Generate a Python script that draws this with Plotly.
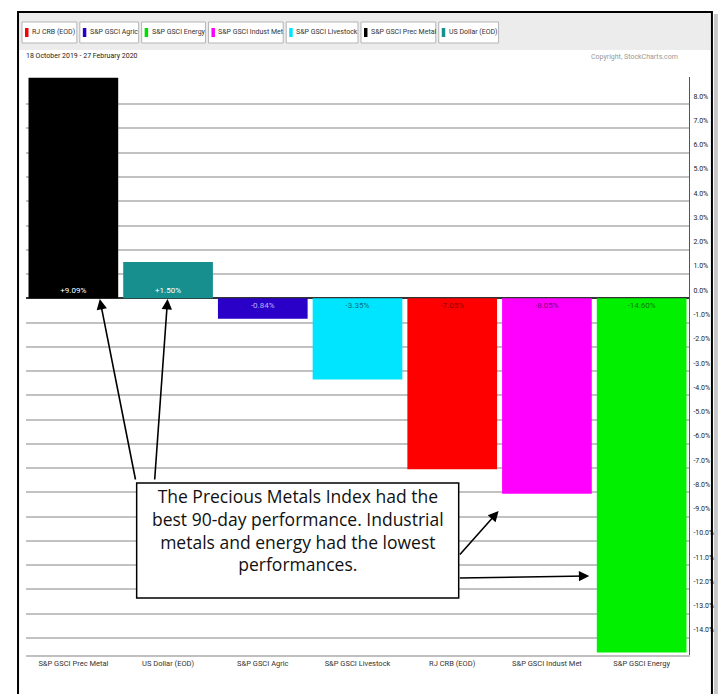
import plotly.graph_objects as go

# ---------------- data ----------------
categories = ["S&P GSCI Prec Metal", "US Dollar (EOD)", "S&P GSCI Agric", "S&P GSCI Livestock",
              "RJ CRB (EOD)", "S&P GSCI Indust Met", "S&P GSCI Energy"]
values = [9.09, 1.50, -0.84, -3.35, -7.05, -8.05, -14.60]
bar_colors = ["#000000", "#178f8f", "#2a00c8", "#00e5ff", "#ff0000", "#ff00ff", "#00f000"]
label_colors = ["#ffffff", "#ffffff", "#b8b0ff", "#0a6f80", "#900000", "#7a007a", "#0a7a0a"]

legend_names = ["RJ CRB (EOD)", "S&P GSCI Agric", "S&P GSCI Energy", "S&P GSCI Indust Met",
                "S&P GSCI Livestock", "S&P GSCI Prec Metal", "US Dollar (EOD)"]
legend_colors = ["#ff0000", "#2a00c8", "#00e000", "#ff00ff", "#00e5ff", "#000000", "#178f8f"]

tick_vals = list(range(-14, 9))
tick_text = [f"{v:.1f}%" for v in tick_vals]

date_text = "18 October 2019 - 27 February 2020"
copyright_text = "Copyright, StockCharts.com"
note_text = ("The Precious Metals Index had the<br>best 90-day performance. Industrial<br>"
             "metals and energy had the lowest<br>performances.")

# ---------------- layout geometry ----------------
W, H = 726, 694
ML, MR, MT, MB = 26, 35, 77, 39
PW, PH = W - ML - MR, H - MT - MB


def px(x, y):
    return (x - ML) / PW, (H - MB - y) / PH


SMALL = "Roboto, Liberation Sans, sans-serif"

fig = go.Figure()
fig.add_trace(go.Bar(
    x=categories, y=values,
    marker=dict(color=bar_colors, line=dict(width=0)),
    text=[f"{v:+.2f}%" for v in values],
    textposition="inside", insidetextanchor="start", textangle=0,
    textfont=dict(family=SMALL, size=8, color=label_colors),
    constraintext="none",
    showlegend=False,
))

shapes = []
annotations = []

# frame + header band
x0, y0 = px(18, 12)
x1, y1 = px(714, 700)
shapes.append(dict(type="rect", xref="paper", yref="paper", x0=x0, y0=y1, x1=x1, y1=y0,
                   line=dict(color="#000000", width=2), fillcolor="rgba(0,0,0,0)", layer="above"))
sx0, sy0 = px(716, 14)
sx1, sy1 = px(720, 700)
shapes.append(dict(type="rect", xref="paper", yref="paper", x0=sx0, y0=sy1, x1=sx1, y1=sy0,
                   line=dict(width=0), fillcolor="#c8c8c8", layer="below"))
hx0, hy0 = px(19, 13)
hx1, hy1 = px(713, 50)
shapes.append(dict(type="rect", xref="paper", yref="paper", x0=hx0, y0=hy1, x1=hx1, y1=hy0,
                   line=dict(width=0), fillcolor="#ececec", layer="below"))

# legend buttons
box_w = [55, 59, 64, 75, 72, 75, 60]
bx = 22
for w, name, col in zip(box_w, legend_names, legend_colors):
    bx0, bx1 = bx, bx + w
    bx = bx1 + 3
    a0, b0 = px(bx0, 22)
    a1, b1 = px(bx1, 43)
    shapes.append(dict(type="rect", xref="paper", yref="paper", x0=a0, y0=b1, x1=a1, y1=b0,
                       line=dict(color="#b5b5b5", width=1), fillcolor="#ffffff", layer="above"))
    c0, d0 = px(bx0 + 3, 28)
    c1, d1 = px(bx0 + 6.5, 37)
    shapes.append(dict(type="rect", xref="paper", yref="paper", x0=c0, y0=d1, x1=c1, y1=d0,
                       line=dict(width=0), fillcolor=col, layer="above"))
    tx, ty = px(bx0 + 8, 32.5)
    annotations.append(dict(xref="paper", yref="paper", x=tx, y=ty, xanchor="left", yanchor="middle",
                            text=name, showarrow=False,
                            font=dict(family=SMALL, size=7, color="#333333")))

# date and copyright
tx, ty = px(24, 56)
annotations.append(dict(xref="paper", yref="paper", x=tx, y=ty, xanchor="left", yanchor="middle",
                        text=date_text, showarrow=False, font=dict(family=SMALL, size=7, color="#222222")))
tx, ty = px(682, 57)
annotations.append(dict(xref="paper", yref="paper", x=tx, y=ty, xanchor="right", yanchor="middle",
                        text=copyright_text, showarrow=False, font=dict(family=SMALL, size=7, color="#999999")))

# note box
nx0, ny0 = px(137, 483)
nx1, ny1 = px(460, 598)
shapes.append(dict(type="rect", xref="paper", yref="paper", x0=nx0, y0=ny1, x1=nx1, y1=ny0,
                   line=dict(color="#000000", width=1.5), fillcolor="#ffffff", layer="above"))
tx, ty = px(298.5, 530)
annotations.append(dict(xref="paper", yref="paper", x=tx, y=ty, xanchor="center", yanchor="middle",
                        text=note_text, showarrow=False, align="center",
                        font=dict(family="Open Sans, sans-serif", size=17.5, color="#111111")))

# arrows (tip, tail in pixels)
arrows = [((100, 299), (136, 481)), ((168, 299), (155, 481)),
          ((500, 511), (460, 556)), ((591, 576), (460, 578))]
for (tipx, tipy), (tlx, tly) in arrows:
    ax_, ay_ = px(tipx, tipy)
    annotations.append(dict(xref="paper", yref="paper", x=ax_, y=ay_, text="", showarrow=True,
                            ax=tlx - tipx, ay=tly - tipy, axref="pixel", ayref="pixel",
                            arrowhead=2, arrowsize=1.3, arrowwidth=1.6, arrowcolor="#000000",
                            standoff=0, startstandoff=0))

fig.update_layout(
    width=W, height=H,
    margin=dict(l=ML, r=MR, t=MT, b=MB, pad=0),
    paper_bgcolor="#ffffff", plot_bgcolor="#ffffff",
    bargap=0.053,
    shapes=shapes, annotations=annotations,
    xaxis=dict(categoryorder="array", categoryarray=categories, showgrid=False, zeroline=False,
               showline=True, linecolor="#c0c0c0", linewidth=2, ticks="",
               tickfont=dict(family=SMALL, size=7.5, color="#333333"), fixedrange=True),
    yaxis=dict(side="right", range=[-14.7, 9.12], tickvals=tick_vals, ticktext=tick_text,
               showgrid=True, gridcolor="#c2c2c2", gridwidth=1.6,
               zeroline=True, zerolinecolor="#333333", zerolinewidth=2,
               showline=True, linecolor="#555555", linewidth=1, ticks="",
               ticklabelshift=-8, ticklabelstandoff=2,
               tickfont=dict(family=SMALL, size=7, color="#222222"), fixedrange=True),
)

fig.write_html("out.html")
